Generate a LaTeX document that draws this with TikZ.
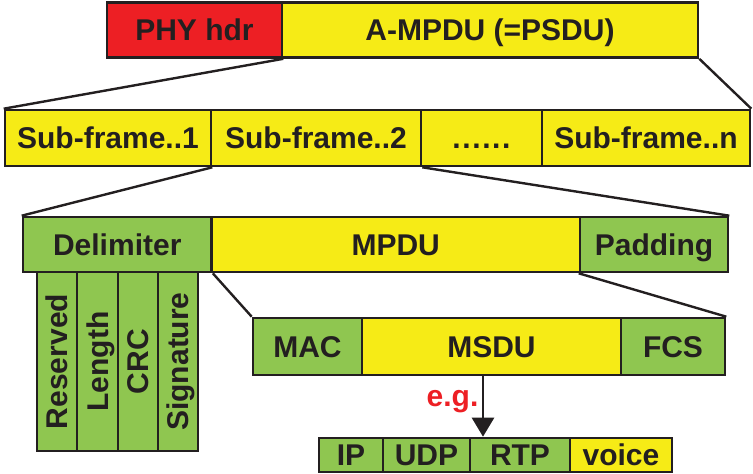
\documentclass[tikz,border=0pt]{standalone}
\usepackage{fontspec}
\setmainfont{Liberation Sans}
\usetikzlibrary{arrows.meta}
\definecolor{hdrred}{RGB}{237,31,36}
\definecolor{fyellow}{RGB}{246,235,22}
\definecolor{fgreen}{RGB}{143,198,80}
\definecolor{ink}{RGB}{35,31,32}
\tikzset{
  cell/.style={draw=ink, line width=2.6pt, inner sep=0pt, text=ink,
    font=\fontsize{30}{33}\selectfont\bfseries, text height=21.5pt, text depth=0pt},
  ye/.style={cell, fill=fyellow},
  gr/.style={cell, fill=fgreen},
  rd/.style={cell, fill=hdrred},
  link/.style={draw=ink, line width=2.4pt},
  egarrow/.style={draw=ink, line width=2.8pt, -{Triangle[length=19pt,width=22pt]}},
  eglabel/.style={text=hdrred, font=\fontsize{30}{33}\selectfont\bfseries, inner sep=0pt}
}
\begin{document}
\begin{tikzpicture}[x=1pt,y=-1pt]
\useasboundingbox (0,0) rectangle (753,474);
% row 1
\node[rd, minimum width=175pt, minimum height=55pt] (phy) at (194.5,30) {PHY hdr};
\node[ye, minimum width=416pt, minimum height=55pt] (ampdu) at (490,30) {A-MPDU (=PSDU)};
% row 2
\node[ye, minimum width=206pt, minimum height=56pt] (sub1) at (108,138) {Sub-frame..1};
\node[ye, minimum width=210pt, minimum height=56pt] (sub2) at (316,138) {Sub-frame..2};
\node[ye, minimum width=121pt, minimum height=56pt] (subd) at (481.5,138) {.\kern1.6pt.\kern1.6pt.\kern1.6pt.\kern1.6pt.\kern1.6pt.};
\node[ye, minimum width=208pt, minimum height=56pt] (subn) at (646,138) {Sub-frame..n};
% row 3
\node[gr, minimum width=188.5pt, minimum height=55pt] (delim) at (117.25,244.5) {Delimiter};
\node[ye, minimum width=368.5pt, minimum height=55pt] (mpdu) at (395.75,244.5) {MPDU};
\node[gr, minimum width=148pt, minimum height=55pt] (pad) at (654,244.5) {Padding};
% delimiter fields
\node[gr, rotate=90, minimum width=179pt, minimum height=40pt] (res) at (57,361.5) {Reserved};
\node[gr, rotate=90, minimum width=179pt, minimum height=41pt] (len) at (97.5,361.5) {Length};
\node[gr, rotate=90, minimum width=179pt, minimum height=40pt] (crc) at (138,361.5) {CRC};
\node[gr, rotate=90, minimum width=179pt, minimum height=40pt] (sig) at (178,361.5) {Signature};
% row 4
\node[gr, minimum width=109pt, minimum height=57pt] (mac) at (307.5,346.5) {MAC};
\node[ye, minimum width=259pt, minimum height=57pt] (msdu) at (491.5,346.5) {MSDU};
\node[gr, minimum width=104pt, minimum height=57pt] (fcs) at (673,346.5) {FCS};
% row 5
\node[gr, minimum width=64pt, minimum height=34pt] (ip) at (351,455) {IP};
\node[gr, minimum width=87pt, minimum height=34pt] (udp) at (426.5,455) {UDP};
\node[gr, minimum width=100pt, minimum height=34pt] (rtp) at (520,455) {RTP};
\node[ye, minimum width=102pt, minimum height=34pt] (voice) at (621,455) {voice};
% connectors
\draw[link] (phy.south east) -- (sub1.north west);
\draw[link] (ampdu.south east) -- (subn.north east);
\draw[link] (sub1.south east) -- (delim.north west);
\draw[link] (sub2.south east) -- (pad.north east);
\draw[link] (delim.south east) -- (mac.north west);
\draw[link] (pad.south west) -- (fcs.north east);
\coordinate (egx) at (483,0);
\draw[egarrow] (msdu.south -| egx) -- (rtp.north -| egx);
\node[eglabel] (eg) at (452.5,402) {e.g.};
\end{tikzpicture}
\end{document}
